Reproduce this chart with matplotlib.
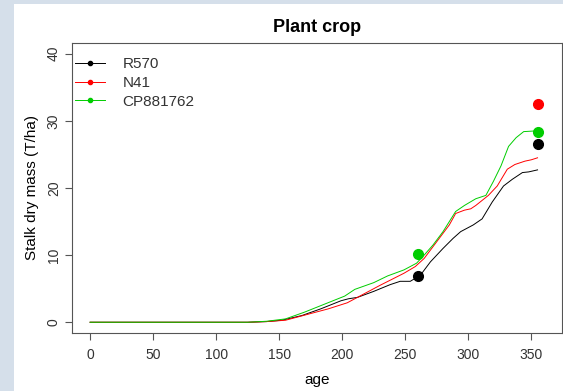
import numpy as np
import matplotlib.pyplot as plt
from matplotlib.patches import Rectangle

plt.rcParams['font.family'] = ['Liberation Sans', 'DejaVu Sans']

# simulated stalk dry mass per variety
age_r570 = [0, 125, 140, 152, 168, 183, 199, 205, 212, 225, 238, 246, 254, 262,
            270, 280, 288, 294, 304, 311, 319, 328, 335, 343, 348, 355]
sim_r570 = [0, 0, 0.1, 0.3, 1.0, 2.0, 3.2, 3.5, 3.7, 4.6, 5.6, 6.1, 6.1, 7.0,
            9.0, 11.0, 12.5, 13.5, 14.5, 15.4, 17.9, 20.3, 21.3, 22.3, 22.4, 22.7]

age_n41 = [0, 125, 140, 155, 173, 189, 204, 217, 230, 249, 258, 265, 275, 285,
           290, 297, 302, 306, 316, 323, 331, 337, 345, 350, 355]
sim_n41 = [0, 0, 0.1, 0.3, 1.2, 2.0, 2.9, 4.2, 5.5, 7.3, 8.3, 9.5, 12.0, 14.5,
           16.2, 16.7, 16.9, 17.4, 18.9, 20.3, 22.8, 23.5, 24.0, 24.2, 24.5]

age_cp = [0, 125, 140, 155, 170, 186, 202, 210, 225, 236, 249, 259, 265, 272,
          280, 290, 297, 306, 314, 320, 326, 332, 338, 344, 353]
sim_cp = [0, 0, 0.15, 0.5, 1.5, 2.7, 3.9, 4.9, 5.9, 6.9, 7.8, 8.8, 10.0, 11.5,
          13.5, 16.5, 17.4, 18.4, 18.9, 21.0, 23.3, 26.2, 27.5, 28.4, 28.5]

# observed values
obs_age_r570 = [260, 355]
obs_r570 = [6.9, 26.6]
obs_age_n41 = [355]
obs_n41 = [32.5]
obs_age_cp = [260, 355]
obs_cp = [10.2, 28.4]

green = '#00cd00'

fig = plt.figure(figsize=(5.63, 3.91), dpi=100, facecolor='#d5dfea')
fig.patches.append(Rectangle((14 / 563, 0), 1, 387 / 391, transform=fig.transFigure,
                             facecolor='white', edgecolor='none', zorder=-1))
ax = fig.add_axes([72 / 563, 1 - 333 / 391, 490 / 563, 290 / 391])

ax.plot(age_r570, sim_r570, color='black', lw=0.7)
ax.plot(age_n41, sim_n41, color='red', lw=0.7)
ax.plot(age_cp, sim_cp, color=green, lw=0.7)
ax.plot(obs_age_r570, obs_r570, 'o', color='black', ms=7)
ax.plot(obs_age_n41, obs_n41, 'o', color='red', ms=7)
ax.plot(obs_age_cp, obs_cp, 'o', color=green, ms=7)

ax.set_xlim(-14.4, 374.4)
ax.set_ylim(-1.6, 41.6)
ax.set_xticks(np.arange(0, 351, 50))
ax.set_yticks([0, 10, 20, 30, 40])
for s in ax.spines.values():
    s.set_color('#555555')
    s.set_linewidth(0.8)
ax.tick_params(direction='out', length=5, width=0.8, color='#555555',
               labelsize=10, labelcolor='#333333')
ax.tick_params(axis='x', pad=6)
ax.tick_params(axis='y', pad=3)
for lab in ax.get_yticklabels():
    lab.set_rotation(90)
    lab.set_va('center')

ax.set_title('Plant crop', fontsize=13, fontweight='bold', pad=8)
ax.set_xlabel('age', fontsize=11, labelpad=8)
ax.set_ylabel('Stalk dry mass (T/ha)', fontsize=11, labelpad=6)

handles = [plt.Line2D([], [], color='black', lw=0.7, marker='o', ms=3),
           plt.Line2D([], [], color='red', lw=0.7, marker='o', ms=3),
           plt.Line2D([], [], color=green, lw=0.7, marker='o', ms=3)]
ax.legend(handles, ['R570', 'N41', 'CP881762'], loc='upper left', frameon=False,
          fontsize=11, handlelength=2.0, handletextpad=1.1, labelspacing=0.3,
          borderpad=0, borderaxespad=0, bbox_to_anchor=(0.006, 0.95),
          labelcolor='#333333')

fig.savefig('out.png', dpi=100)
